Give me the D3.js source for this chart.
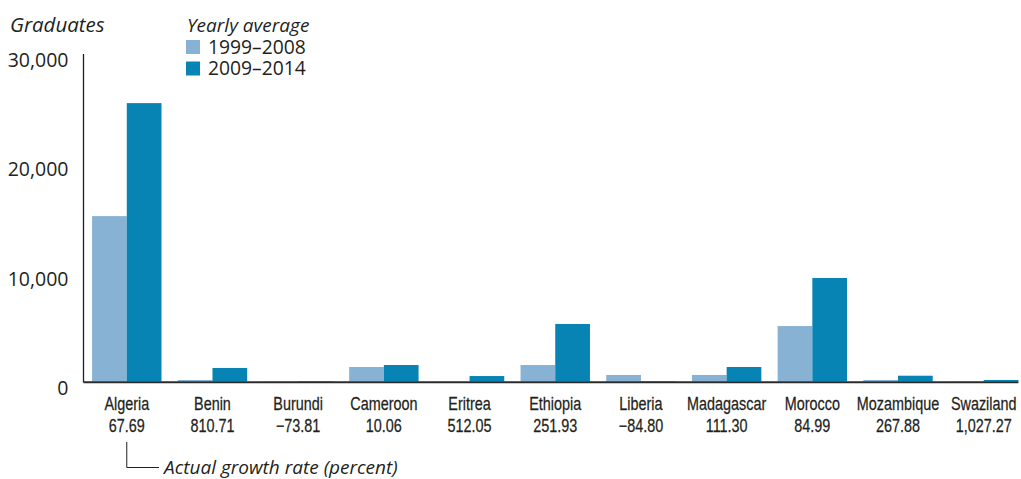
<!DOCTYPE html>
<html>
<head>
<meta charset="utf-8">
<script src="https://cdn.jsdelivr.net/npm/d3@7"></script>
<style>
  html, body { margin: 0; padding: 0; background: #fff; }
  svg { display: block; }
  .tick-label { font-family: "Open Sans", "Noto Sans", sans-serif; font-size: 19.5px; fill: #231f20; }
  .cat { font-family: "Liberation Sans", Arial, sans-serif; font-size: 18px; fill: #231f20; stroke: #231f20; stroke-width: 0.25px; }
  .ital { font-family: "Open Sans", "Noto Sans", sans-serif; font-style: italic; font-size: 19px; fill: #231f20; }
  .leg { font-family: "Open Sans", "Noto Sans", sans-serif; font-size: 19.3px; fill: #231f20; }
</style>
</head>
<body>
<svg id="chart" width="1021" height="479"></svg>
<script>
const categories = ["Algeria","Benin","Burundi","Cameroon","Eritrea","Ethiopia","Liberia","Madagascar","Morocco","Mozambique","Swaziland"];
const growthRates = ["67.69","810.71","\u221273.81","10.06","512.05","251.93","\u221284.80","111.30","84.99","267.88","1,027.27"];
const avg1999_2008 = [15150, 140, 15, 1330, 10, 1510, 600, 600, 5080, 140, 15];
const avg2009_2014 = [25500, 1240, 40, 1510, 500, 5270, 40, 1330, 9480, 530, 140];
const seriesNames = ["1999\u20132008","2009\u20132014"];
const seriesColors = ["#88b2d4","#0783b4"];
const yTicks = [0, 10000, 20000, 30000];

const svg = d3.select("#chart");
const axisX = 83.5;
const y = d3.scaleLinear().domain([0, 30000]).range([381.5, 54]);
const x = d3.scaleBand().domain(categories).range([axisX, 1027]).paddingInner(0.19).paddingOuter(0.1);
const x1 = d3.scaleBand().domain([0,1]).range([0, x.bandwidth()]);

const series = [avg1999_2008, avg2009_2014];

// bars
const g = svg.append("g");
categories.forEach((c, i) => {
  series.forEach((s, j) => {
    g.append("rect")
      .attr("x", x(c) + x1(j))
      .attr("width", x1.bandwidth())
      .attr("y", y(s[i]))
      .attr("height", y(0) - y(s[i]))
      .attr("fill", seriesColors[j]);
  });
});

// y axis
const yAxis = d3.axisLeft(y).tickValues(yTicks).tickSize(0).tickPadding(15)
  .tickFormat(d3.format(","));
const ya = svg.append("g").attr("transform", `translate(${axisX},0)`).call(yAxis);
ya.select(".domain").remove();
ya.selectAll("text").attr("class", "tick-label").attr("dy", "0.65em").attr("font-family", null).attr("font-size", null);

svg.append("line").attr("x1", axisX).attr("x2", axisX).attr("y1", y(30000)).attr("y2", y(0) + 1)
  .attr("stroke", "#231f20").attr("stroke-width", 1.3);

// baseline
svg.append("line").attr("x1", axisX).attr("x2", x(categories[categories.length-1]) + x.bandwidth())
  .attr("y1", y(0) + 0.8).attr("y2", y(0) + 0.8)
  .attr("stroke", "#2b2b2b").attr("stroke-width", 2);

// category labels (condensed look)
const xa = svg.append("g");
categories.forEach((c, i) => {
  const cx = x(c) + x.bandwidth() / 2;
  xa.append("text").attr("class", "cat").attr("transform", `translate(${cx},410) scale(0.8,1)`)
    .attr("text-anchor", "middle").text(c);
  xa.append("text").attr("class", "cat").attr("transform", `translate(${cx},431.7) scale(0.8,1)`)
    .attr("text-anchor", "middle").text(growthRates[i]);
});

// annotation bracket
const ax0 = x(categories[0]) + x.bandwidth() / 2;
svg.append("path")
  .attr("d", `M${ax0},442 V467.5 H159`)
  .attr("fill", "none").attr("stroke", "#231f20").attr("stroke-width", 1);
svg.append("text").attr("class", "ital").attr("x", 164).attr("y", 474).text("Actual growth rate (percent)");

// y title
svg.append("text").attr("class", "ital").attr("x", 10).attr("y", 32).style("font-size", "20.5px").text("Graduates");

// legend
svg.append("text").attr("class", "ital").attr("x", 187).attr("y", 31.5).text("Yearly average");
seriesNames.forEach((n, j) => {
  svg.append("rect").attr("x", 186).attr("y", 40 + j * 21.5).attr("width", 14).attr("height", 14).attr("fill", seriesColors[j]);
  svg.append("text").attr("class", "leg").attr("x", 208).attr("y", 53.5 + j * 21.5).text(n);
});
</script>
</body>
</html>
